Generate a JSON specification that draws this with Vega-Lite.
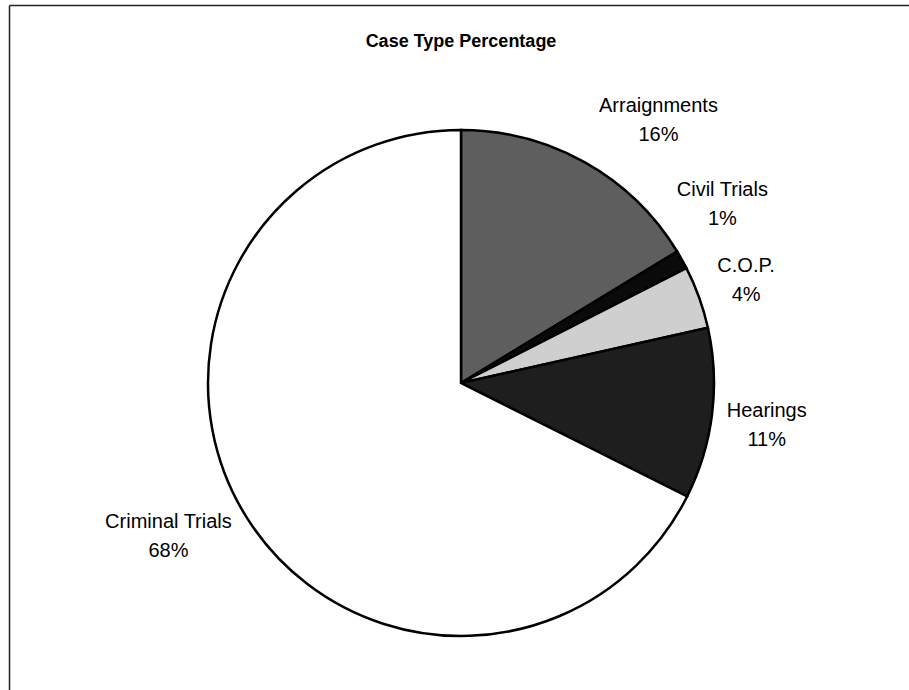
{
  "$schema": "https://vega.github.io/schema/vega-lite/v6.json",
  "width": 900,
  "height": 685,
  "autosize": {"type": "none"},
  "padding": {"left": 9, "top": 5, "right": 0, "bottom": 0},
  "background": "white",
  "view": {"stroke": null, "fill": "white"},
  "title": {
    "text": "Case Type Percentage",
    "offset": -41,
    "dy": 22,
    "baseline": "alphabetic",
    "anchor": "middle",
    "dx": 2,
    "font": "Liberation Sans",
    "fontSize": 18,
    "fontWeight": "bold",
    "color": "black"
  },
  "data": {
    "values": [
      {"category": "Arraignments", "value": 0.163, "order": 1},
      {"category": "Civil Trials", "value": 0.012, "order": 2},
      {"category": "C.O.P.", "value": 0.040, "order": 3},
      {"category": "Hearings", "value": 0.109, "order": 4},
      {"category": "Criminal Trials", "value": 0.676, "order": 5}
    ]
  },
  "layer": [
    {
      "mark": {"type": "point", "opacity": 0},
      "encoding": {
        "x": {"field": "value", "type": "quantitative", "axis": {"orient": "top", "domain": true, "domainColor": "#222222", "domainWidth": 1.5, "ticks": false, "labels": false, "grid": false, "title": null}},
        "y": {"field": "order", "type": "quantitative", "axis": {"orient": "left", "domain": true, "domainColor": "#222222", "domainWidth": 1.5, "ticks": false, "labels": false, "grid": false, "title": null}}
      }
    },
    {
      "mark": {"type": "arc", "radius": 253, "stroke": "black", "strokeWidth": 2.5, "x": {"expr": "width/2 + 2"}, "y": {"expr": "height/2 + 35.5"}},
      "encoding": {
        "theta": {"field": "value", "type": "quantitative", "stack": true},
        "order": {"field": "order", "type": "quantitative"},
        "color": {
          "field": "category",
          "type": "nominal",
          "scale": {
            "domain": ["Arraignments", "Civil Trials", "C.O.P.", "Hearings", "Criminal Trials"],
            "range": ["#5e5e5e", "#0a0a0a", "#cfcfcf", "#1e1e1e", "#ffffff"]
          },
          "legend": null
        }
      }
    },
    {
      "mark": {"type": "text", "x": {"expr": "width/2 + 2"}, "y": {"expr": "height/2 + 35.5"}, "radius": 303, "font": "Liberation Sans", "fontSize": 20, "color": "black", "align": "center", "baseline": "middle", "dy": -14.5},
      "encoding": {"theta": {"field": "value", "type": "quantitative", "stack": true}, "order": {"field": "order", "type": "quantitative"}, "text": {"condition": {"test": "datum.category === 'C.O.P.'", "field": "category", "type": "nominal"}, "value": ""}}
    },
    {
      "mark": {"type": "text", "x": {"expr": "width/2 + 2"}, "y": {"expr": "height/2 + 35.5"}, "radius": 303, "font": "Liberation Sans", "fontSize": 20, "color": "black", "align": "center", "baseline": "middle", "dy": 14.5},
      "encoding": {"theta": {"field": "value", "type": "quantitative", "stack": true}, "order": {"field": "order", "type": "quantitative"}, "text": {"condition": {"test": "datum.category === 'C.O.P.'", "field": "value", "type": "quantitative", "format": ".0%"}, "value": ""}}
    },
    {
      "mark": {"type": "text", "x": {"expr": "width/2 + 2"}, "y": {"expr": "height/2 + 35.5"}, "radius": 305, "font": "Liberation Sans", "fontSize": 20, "color": "black", "align": "center", "baseline": "middle", "dx": 3, "dy": -9.5},
      "encoding": {"theta": {"field": "value", "type": "quantitative", "stack": true}, "order": {"field": "order", "type": "quantitative"}, "text": {"condition": {"test": "datum.category === 'Hearings'", "field": "category", "type": "nominal"}, "value": ""}}
    },
    {
      "mark": {"type": "text", "x": {"expr": "width/2 + 2"}, "y": {"expr": "height/2 + 35.5"}, "radius": 305, "font": "Liberation Sans", "fontSize": 20, "color": "black", "align": "center", "baseline": "middle", "dx": 3, "dy": 19.5},
      "encoding": {"theta": {"field": "value", "type": "quantitative", "stack": true}, "order": {"field": "order", "type": "quantitative"}, "text": {"condition": {"test": "datum.category === 'Hearings'", "field": "value", "type": "quantitative", "format": ".0%"}, "value": ""}}
    },
    {
      "mark": {"type": "text", "x": {"expr": "width/2 + 2"}, "y": {"expr": "height/2 + 35.5"}, "radius": 305, "font": "Liberation Sans", "fontSize": 20, "color": "black", "align": "center", "baseline": "middle", "dx": 48, "dy": -11.5},
      "encoding": {"theta": {"field": "value", "type": "quantitative", "stack": true}, "order": {"field": "order", "type": "quantitative"}, "text": {"condition": {"test": "datum.category === 'Arraignments'", "field": "category", "type": "nominal"}, "value": ""}}
    },
    {
      "mark": {"type": "text", "x": {"expr": "width/2 + 2"}, "y": {"expr": "height/2 + 35.5"}, "radius": 305, "font": "Liberation Sans", "fontSize": 20, "color": "black", "align": "center", "baseline": "middle", "dx": 48, "dy": 17.5},
      "encoding": {"theta": {"field": "value", "type": "quantitative", "stack": true}, "order": {"field": "order", "type": "quantitative"}, "text": {"condition": {"test": "datum.category === 'Arraignments'", "field": "value", "type": "quantitative", "format": ".0%"}, "value": ""}}
    },
    {
      "mark": {"type": "text", "x": {"expr": "width/2 + 2"}, "y": {"expr": "height/2 + 35.5"}, "radius": 305, "font": "Liberation Sans", "fontSize": 20, "color": "black", "align": "center", "baseline": "middle", "dx": -5, "dy": -44.5},
      "encoding": {"theta": {"field": "value", "type": "quantitative", "stack": true}, "order": {"field": "order", "type": "quantitative"}, "text": {"condition": {"test": "datum.category === 'Civil Trials'", "field": "category", "type": "nominal"}, "value": ""}}
    },
    {
      "mark": {"type": "text", "x": {"expr": "width/2 + 2"}, "y": {"expr": "height/2 + 35.5"}, "radius": 305, "font": "Liberation Sans", "fontSize": 20, "color": "black", "align": "center", "baseline": "middle", "dx": -5, "dy": -15.5},
      "encoding": {"theta": {"field": "value", "type": "quantitative", "stack": true}, "order": {"field": "order", "type": "quantitative"}, "text": {"condition": {"test": "datum.category === 'Civil Trials'", "field": "value", "type": "quantitative", "format": ".0%"}, "value": ""}}
    },
    {
      "mark": {"type": "text", "x": {"expr": "width/2 + 2"}, "y": {"expr": "height/2 + 35.5"}, "radius": 305, "font": "Liberation Sans", "fontSize": 20, "color": "black", "align": "center", "baseline": "middle", "dx": -33, "dy": -21.5},
      "encoding": {"theta": {"field": "value", "type": "quantitative", "stack": true}, "order": {"field": "order", "type": "quantitative"}, "text": {"condition": {"test": "datum.category === 'Criminal Trials'", "field": "category", "type": "nominal"}, "value": ""}}
    },
    {
      "mark": {"type": "text", "x": {"expr": "width/2 + 2"}, "y": {"expr": "height/2 + 35.5"}, "radius": 305, "font": "Liberation Sans", "fontSize": 20, "color": "black", "align": "center", "baseline": "middle", "dx": -33, "dy": 7.5},
      "encoding": {"theta": {"field": "value", "type": "quantitative", "stack": true}, "order": {"field": "order", "type": "quantitative"}, "text": {"condition": {"test": "datum.category === 'Criminal Trials'", "field": "value", "type": "quantitative", "format": ".0%"}, "value": ""}}
    }
  ]
}
